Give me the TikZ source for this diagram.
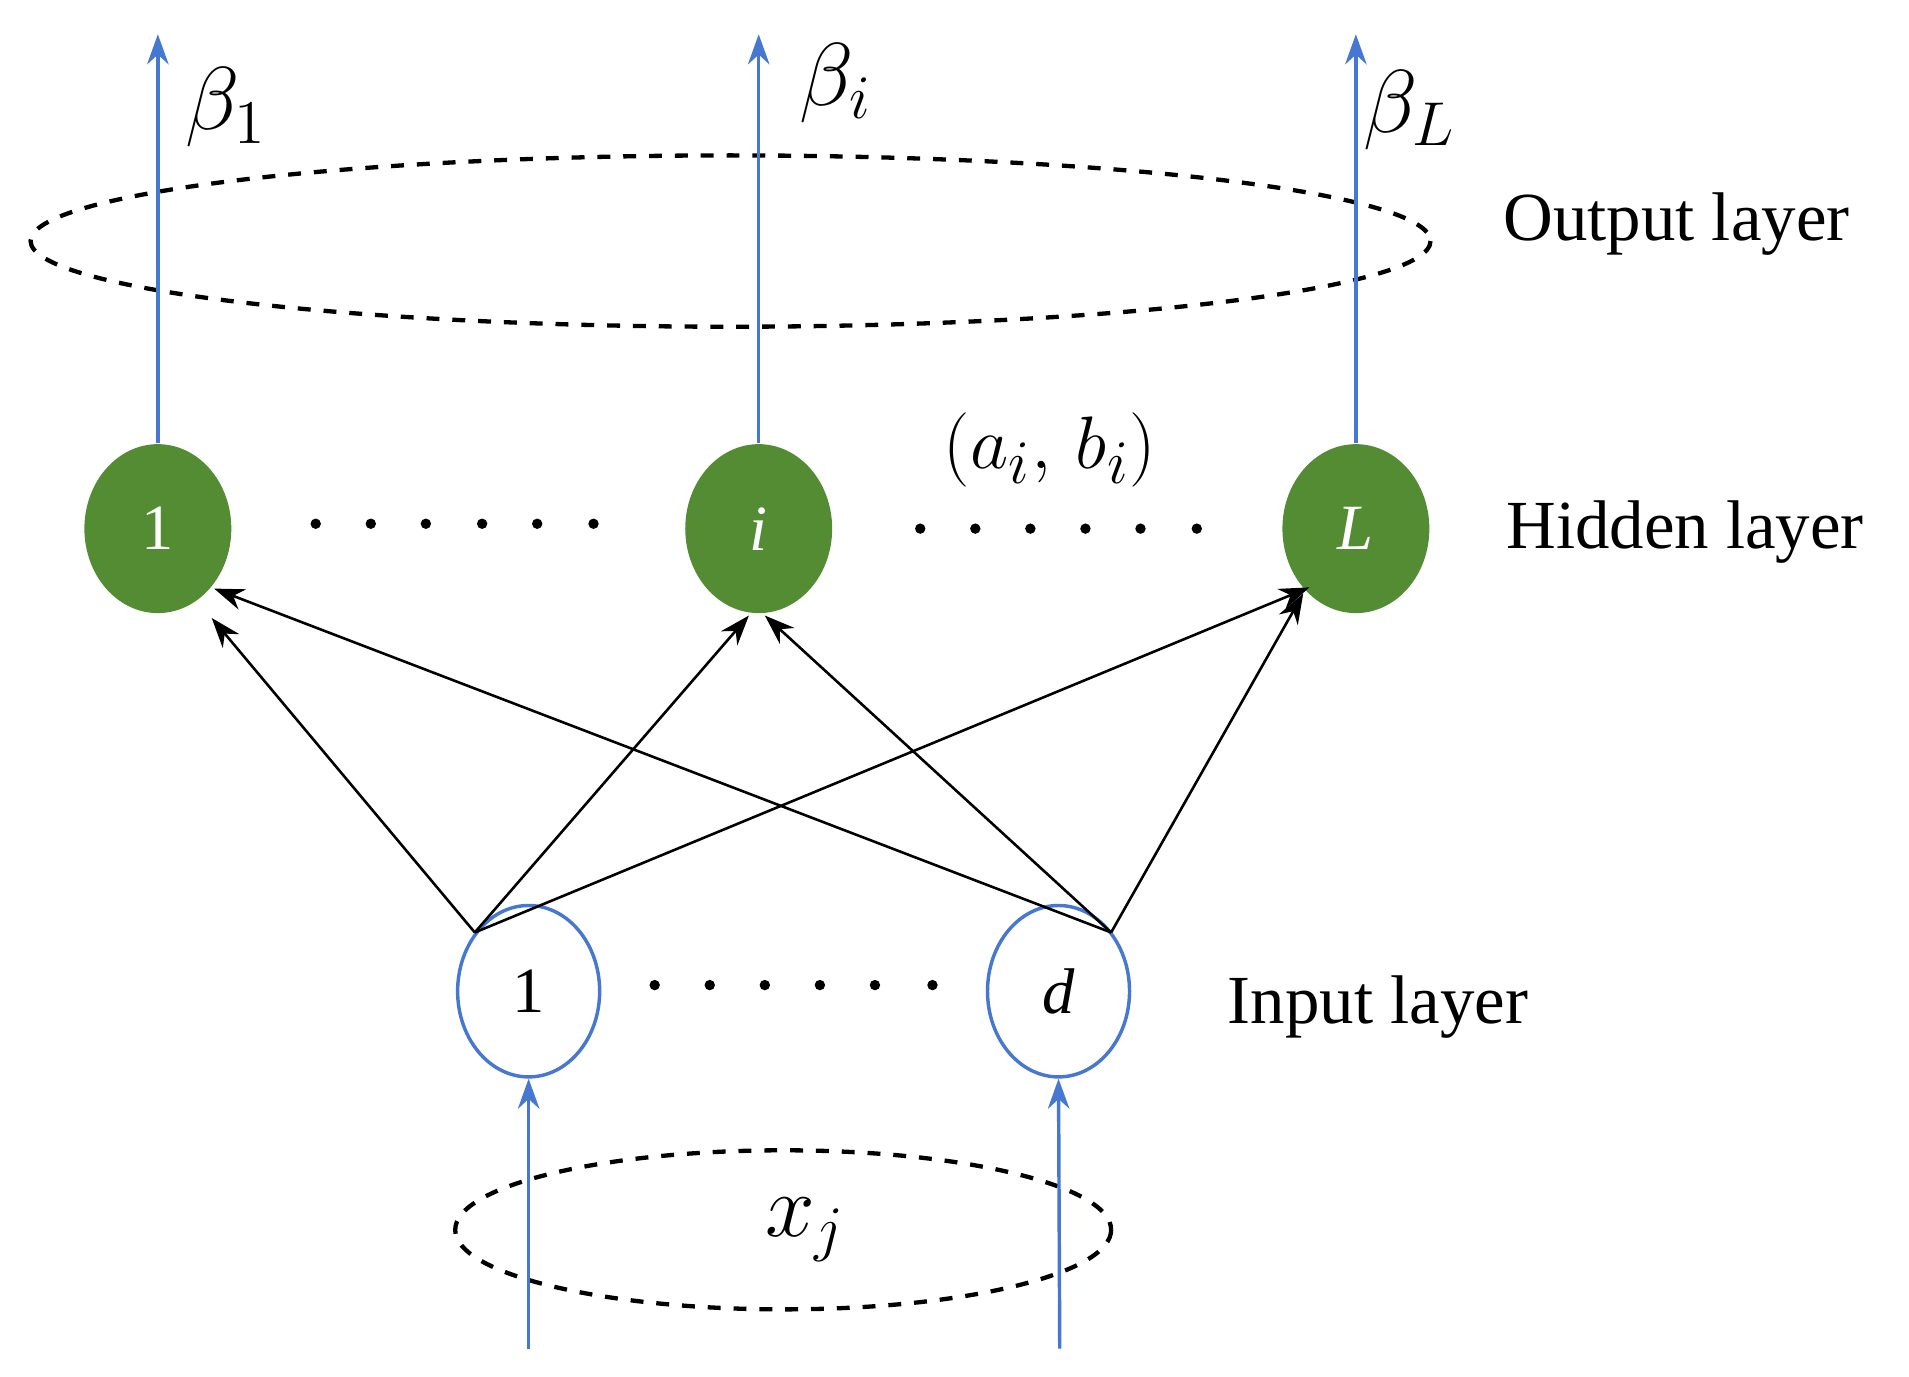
\documentclass[tikz,border=0pt]{standalone}
\usepackage{fontspec}
\setmainfont{Liberation Serif}
\usetikzlibrary{arrows.meta,shapes.geometric}
\definecolor{hg}{RGB}{84,140,52}
\definecolor{bl}{RGB}{70,120,210}
\begin{document}
\begin{tikzpicture}[x=0.01cm,y=-0.01cm,
  hid/.style={ellipse,fill=hg,draw=none,minimum width=1.2cm,minimum height=1.38cm,inner sep=0,text=white,font=\fontsize{15}{18}\selectfont},
  inp/.style={ellipse,draw=bl,line width=0.8pt,minimum width=1.16cm,minimum height=1.4cm,inner sep=0,font=\fontsize{15}{18}\selectfont},
  blu/.style={draw=bl,line width=0.8pt,-{Stealth[length=7pt,width=5pt]}},
  blk/.style={draw=black,line width=0.6pt,-{Stealth[length=7pt,width=5pt]}},
  dsh/.style={draw=black,dashed,line width=1pt},
  lab/.style={font=\fontsize{16}{19}\selectfont},
  dot/.style={circle,fill=black,inner sep=0,minimum size=0.085cm}]
\useasboundingbox (0,0) rectangle (1560,1125);
\draw[dsh] (597,197) ellipse [x radius=572, y radius=70];
\draw[dsh] (640,1005) ellipse [x radius=268, y radius=65];
\node[hid] (h1) at (129,432) {1};
\node[hid] (hi) at (620,432) {\itshape i};
\node[hid] (hL) at (1108,432) {\itshape L};
\node[inp] (i1) at (432,810) {1};
\node[inp] (id) at (865,810) {\itshape d};
\foreach \x in {258,303,348,394,439,485} \node[dot] at (\x,428) {};
\foreach \x in {752,797,842,887,932,978} \node[dot] at (\x,432) {};
\foreach \x in {535,580,625,670,715,762} \node[dot] at (\x,805) {};
\coordinate (t1) at (129,28); \coordinate (ti) at (620,28); \coordinate (tL) at (1108,28);
\draw[blu] (h1.north) -- (t1);
\draw[blu] (hi.north) -- (ti);
\draw[blu] (hL.north) -- (tL);
\coordinate (b1) at (432,1102); \coordinate (bd) at (866,1102);
\draw[blu] (b1) -- (i1.south);
\draw[blu] (bd) -- (id.south);
\coordinate (s1) at (388,762); \coordinate (sd) at (908,762);
\draw[blk] (s1) -- (173,505);
\draw[blk] (s1) -- (612,503);
\draw[blk] (s1) -- (1070,480);
\draw[blk] (sd) -- (175,481);
\draw[blk] (sd) -- (625,503);
\draw[blk] (sd) -- (1065,485);
\node[font=\fontsize{20}{24}\selectfont] at (185,88) {$\beta_1$};
\node[font=\fontsize{20}{24}\selectfont] at (683,68) {$\beta_i$};
\node[font=\fontsize{20}{24}\selectfont] at (1152,90) {$\beta_L$};
\node[font=\fontsize{19}{23}\selectfont] at (858,368) {$(a_i,\,b_i)$};
\node[font=\fontsize{20}{24}\selectfont] at (658,1005) {$x_j$};
\node[lab] at (1370,183) {Output layer};
\node[lab] at (1377,435) {Hidden layer};
\node[lab] at (1126,823) {Input layer};
\end{tikzpicture}
\end{document}
